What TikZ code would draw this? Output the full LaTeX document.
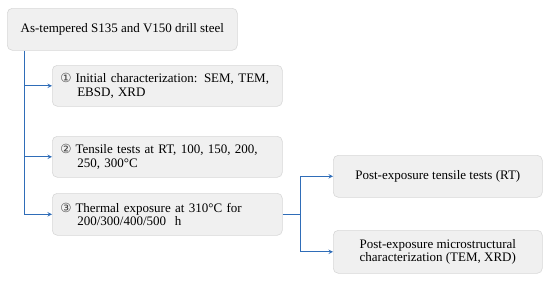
\documentclass[tikz,border=0pt]{standalone}
\usepackage{fontspec}
\setmainfont{Liberation Serif}
\newfontfamily\circfont{DejaVu Sans}
\usetikzlibrary{positioning}
\definecolor{linkblue}{HTML}{2F6DB8}
\definecolor{boxfill}{HTML}{F0F0F0}
\definecolor{boxline}{HTML}{D8D8D8}
\newcommand{\stepno}[1]{{\circfont\fontsize{12.5}{13}\selectfont\color{black!75}#1}\hspace{4pt}}
\tikzset{
	stagebox/.style={draw=boxline, fill=boxfill, rounded corners=5pt, line width=0.6pt,
		anchor=north west, inner xsep=8pt, font=\fontsize{13}{13.5}\selectfont},
	link/.style={draw=linkblue, line width=1pt}
}
\begin{document}
\begin{tikzpicture}[x=1pt,y=-1pt,>=stealth]
	\useasboundingbox (0,0) rectangle (550,281);
	% material
	\node[stagebox, minimum width=230pt, minimum height=42pt] (steel) at (7,8) {As-tempered S135 and V150 drill steel};
	% main steps
	\node[stagebox, minimum width=230pt, minimum height=41pt, text width=214pt, align=left] (init) at (52,65)
		{\stepno{①}Initial characterization: SEM, TEM,\\ \hspace*{17pt}EBSD, XRD};
	\node[stagebox, minimum width=230pt, minimum height=41pt, text width=214pt, align=left] (tens) at (52,136)
		{\stepno{②}Tensile tests at RT, 100, 150, 200,\\ \hspace*{17pt}250, 300°C};
	\node[stagebox, minimum width=230pt, minimum height=42pt, text width=214pt, align=left] (expo) at (52,193)
		{\stepno{③}Thermal exposure at 310°C for\\ \hspace*{17pt}200/300/400/500\ \ h};
	% after exposure
	\node[stagebox, minimum width=209pt, minimum height=42pt] (posttens) at (333,155) {Post-exposure tensile tests (RT)};
	\node[stagebox, minimum width=209pt, minimum height=43pt, align=center] (postmicro) at (333,230)
		{Post-exposure microstructural\\characterization (TEM, XRD)};
	% connectors
	\coordinate (spine) at (24,0);
	\coordinate (fork) at (300,0);
	\draw[link,->] (spine |- steel.south) |- (expo.west);
	\draw[link,->] (spine |- init.west) -- (init.west);
	\draw[link,->] (spine |- tens.west) -- (tens.west);
	\draw[link] (expo.east) -- (fork |- expo.east);
	\draw[link,->] (fork |- expo.east) |- (posttens.west);
	\draw[link,->] (fork |- expo.east) |- (postmicro.west);
\end{tikzpicture}
\end{document}
